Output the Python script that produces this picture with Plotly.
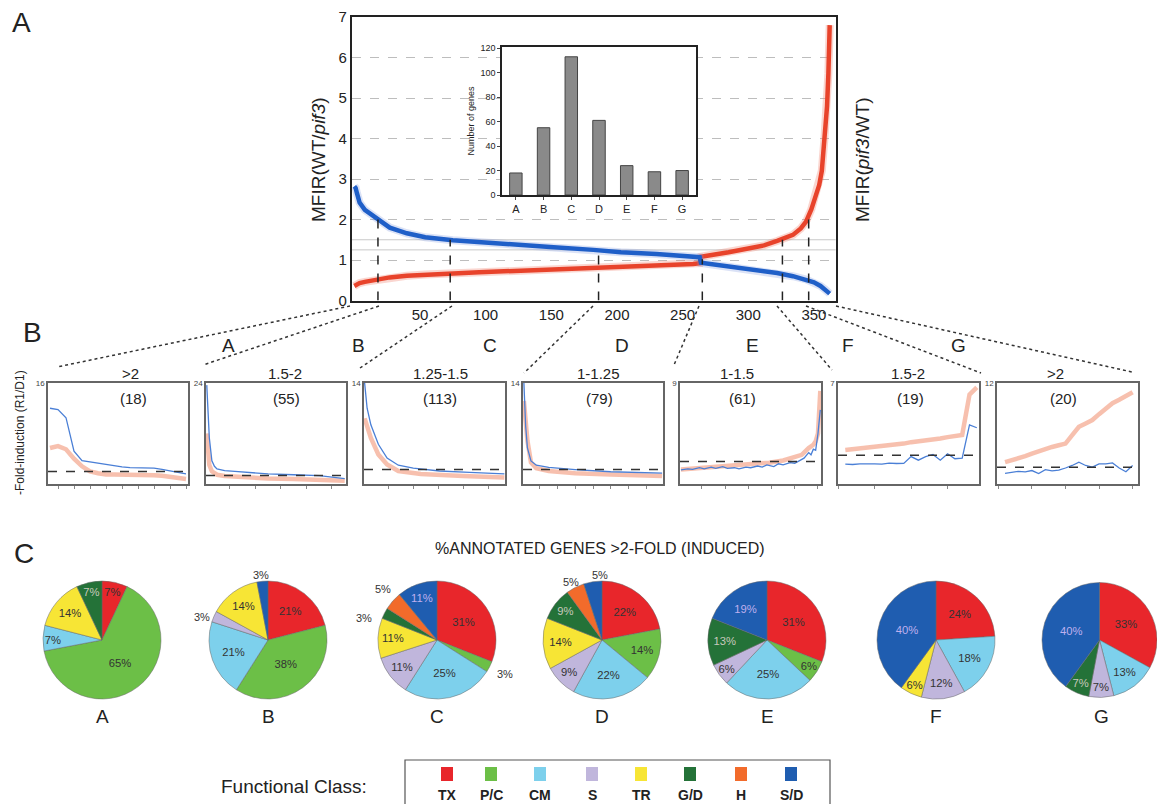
import plotly.graph_objects as go

W, H = 1157, 804
FONT = "Liberation Sans, Arial, Helvetica, sans-serif"

# ---------------- data ----------------
# Panel A: ranked MFIR curves
rank_blue = [0, 1, 2, 4, 8, 13, 19, 27, 40, 54, 75, 95, 122, 149, 182, 203, 230, 258, 263,
             264, 285, 312, 322, 334, 344, 350, 355, 359, 362]
mfir_blue = [2.82, 2.78, 2.65, 2.42, 2.24, 2.12, 2.0, 1.8, 1.66, 1.56, 1.49, 1.44, 1.37, 1.32, 1.25, 1.19, 1.15, 1.09, 1.07,
             0.93, 0.84, 0.72, 0.68, 0.6, 0.52, 0.45, 0.36, 0.26, 0.17]
rank_red = [0, 2, 4, 8, 13, 19, 27, 40, 54, 75, 95, 122, 149, 182, 203, 230, 258, 263,
            264, 285, 312, 322, 334, 340, 344, 348, 351, 354, 356, 358, 360, 361, 362]
mfir_red = [0.36, 0.4, 0.43, 0.46, 0.49, 0.53, 0.57, 0.61, 0.64, 0.67, 0.7, 0.73, 0.76, 0.8, 0.84, 0.87, 0.9, 0.92,
            1.08, 1.19, 1.36, 1.47, 1.62, 1.78, 1.95, 2.25, 2.55, 2.85, 3.2, 4.0, 4.8, 5.6, 6.8]
boundary_rank = [18, 73, 186, 265, 326, 346]
boundary_mfir = [2.0, 1.5, 1.25, 1.02, 1.5, 2.0]
x_ticks_main = [50, 100, 150, 200, 250, 300, 350]

# inset bar chart
inset_groups = ["A", "B", "C", "D", "E", "F", "G"]
inset_counts = [18, 55, 113, 61, 24, 19, 20]

# Panel B: fold-induction mini plots
panel_titles = [">2", "1.5-2", "1.25-1.5", "1-1.25", "1-1.5", "1.5-2", ">2"]
panel_counts = [18, 55, 113, 79, 61, 19, 20]
panel_ymax = [16, 24, 14, 14, 9, 7, 12]

fold_blue_x = [
    list(range(1, 19)),
    [1, 2, 3, 4, 5, 8, 12, 18, 25, 35, 45, 55],
    [1, 3, 6, 12, 19, 28, 40, 61, 85, 113],
    [1, 2, 3, 5, 8, 15, 30, 50, 79],
    [1, 4, 6, 9, 11, 14, 16, 19, 21, 24, 26, 29, 31, 34, 36, 38, 41, 43, 45, 48, 50, 52, 54, 56, 57, 58, 59, 60, 61],
    list(range(1, 20)),
    list(range(1, 21)),
]
fold_blue_y = [
    [12.0, 11.8, 10.5, 5.2, 3.7, 3.5, 3.2, 3.0, 2.8, 2.7, 2.6, 2.6, 2.6, 2.5, 2.3, 2.1, 1.8, 1.6],
    [23.5, 11, 5.5, 4.2, 3.6, 3.2, 3.0, 2.7, 2.4, 2.2, 2.0, 1.3],
    [14, 10.5, 8.2, 5.5, 3.6, 2.6, 2.2, 1.8, 1.6, 1.4],
    [14, 8, 5, 3.2, 2.6, 2.3, 2.0, 1.7, 1.5],
    [1.25, 1.35, 1.3, 1.45, 1.35, 1.5, 1.4, 1.55, 1.4, 1.45, 1.35, 1.5, 1.45, 1.6, 1.5, 1.7, 1.55, 1.8, 1.7, 1.9,
     1.85, 2.1, 2.3, 2.8, 2.6, 3.1, 3.0, 4.5, 6.6],
    [1.38, 1.35, 1.4, 1.42, 1.4, 1.38, 1.45, 1.42, 1.43, 1.9, 1.65, 1.9, 2.05, 1.65, 2.1, 1.75, 1.8, 4.1, 3.9],
    [1.26, 1.4, 1.5, 1.45, 1.6, 1.25, 1.7, 1.55, 1.65, 1.9, 2.2, 2.6, 2.2, 2.0, 2.4, 2.4, 2.5, 1.9, 1.45, 2.2],
]
fold_red_x = [
    list(range(1, 19)),
    [1, 2, 3, 4, 5, 8, 12, 18, 25, 35, 45, 55],
    [1, 6, 12, 19, 28, 46, 80, 113],
    [1, 3, 5, 8, 15, 30, 50, 79],
    [1, 11, 21, 31, 39, 45, 49, 53, 56, 58, 59, 60, 61],
    list(range(1, 20)),
    list(range(1, 21)),
]
fold_red_y = [
    [5.7, 6.0, 5.5, 4.0, 2.8, 2.0, 1.7, 1.5, 1.5, 1.5, 1.5, 1.5, 1.4, 1.4, 1.3, 1.1, 0.9, 0.8],
    [12, 4.5, 3.0, 2.5, 2.2, 1.9, 1.7, 1.5, 1.3, 1.2, 1.0, 0.8],
    [9.1, 6.4, 4.1, 2.7, 1.8, 1.4, 1.1, 0.9],
    [11.5, 6, 3, 2.2, 1.8, 1.5, 1.3, 1.1],
    [1.3, 1.45, 1.6, 1.75, 1.9, 2.1, 2.3, 2.6, 3.2, 3.5, 3.8, 4.5, 8.3],
    [2.35, 2.4, 2.45, 2.5, 2.55, 2.6, 2.65, 2.75, 2.8, 2.9, 2.95, 3.0, 3.1, 3.15, 3.25, 3.3, 3.4, 6.2, 6.7],
    [2.6, 2.8, 3.0, 3.3, 3.6, 3.9, 4.2, 4.4, 4.6, 4.8, 5.8, 6.8, 7.2, 7.6, 8.3, 9.0, 9.6, 10.0, 10.5, 10.9],
]
fold_threshold = 2

# Panel C: functional classes (%)
class_names = ["TX", "P/C", "CM", "S", "TR", "G/D", "H", "S/D"]
class_colors = ["#e8262b", "#6cbf47", "#7dd0ec", "#c0b6dc", "#f7e535", "#247238", "#f26b2b", "#1f5db0"]
class_text_colors = ["#333", "#333", "#333", "#333", "#333", "#c9c9bd", "#333", "#bfb0ee"]
pie_groups = ["A", "B", "C", "D", "E", "F", "G"]
pie_A = [7, 65, 7, 0, 14, 7, 0, 0]
pie_B = [21, 38, 21, 3, 14, 0, 0, 3]
pie_C = [31, 3, 25, 11, 11, 3, 5, 11]
pie_D = [22, 14, 22, 9, 14, 9, 5, 5]
pie_E = [31, 6, 25, 6, 0, 13, 0, 19]
pie_F = [24, 0, 18, 12, 6, 0, 0, 40]
pie_G = [33, 0, 13, 7, 0, 7, 0, 40]
# small slices whose labels sit outside the pie: (pie, class) -> label position in pixels
pie_outside_pos = {("B", "S"): (202, 617), ("B", "S/D"): (261, 575),
                   ("C", "P/C"): (505, 674), ("C", "G/D"): (364, 618), ("C", "H"): (383, 589),
                   ("D", "H"): (571, 582), ("D", "S/D"): (600, 575)}

# ---------------- helpers ----------------
def px(x):
    return x / W


def py(y):
    return 1 - y / H


fig = go.Figure()
annotations = []
shapes = []


def ann(x, y, text, size, **kw):
    d = dict(x=px(x), y=py(y), xref="paper", yref="paper", text=text, showarrow=False,
             xanchor="center", yanchor="middle",
             font=dict(family=FONT, size=size, color=kw.pop("color", "#222")))
    d.update(kw)
    annotations.append(d)


# ---------------- Panel A ----------------
for xs, ys, core, halo in [(rank_red, mfir_red, "#e8432b", "rgba(240,120,100,0.3)"),
                           (rank_blue, mfir_blue, "#1f5fc8", "rgba(110,140,220,0.25)")]:
    fig.add_trace(go.Scatter(x=xs, y=ys, mode="lines", line=dict(color=halo, width=8),
                             hoverinfo="skip", showlegend=False, xaxis="x", yaxis="y"))
    fig.add_trace(go.Scatter(x=xs, y=ys, mode="lines", line=dict(color=core, width=4.5),
                             hoverinfo="skip", showlegend=False, xaxis="x", yaxis="y"))

for lvl in [1.25, 1.5]:
    shapes.append(dict(type="line", xref="x domain", yref="y", x0=0, x1=1, y0=lvl, y1=lvl,
                       line=dict(color="#c8c8c8", width=1), layer="below"))
for bx, by in zip(boundary_rank, boundary_mfir):
    shapes.append(dict(type="line", xref="x", yref="y", x0=bx, x1=bx, y0=0, y1=by,
                       line=dict(color="#222", width=1.5, dash="dash")))

# inset bars
fig.add_trace(go.Bar(x=inset_groups, y=inset_counts, width=0.45,
                     marker=dict(color="#8a8a8a", line=dict(color="#444", width=1)),
                     hoverinfo="skip", showlegend=False, xaxis="x2", yaxis="y2"))

# ---------------- Panel B ----------------
panel_lr = [(48, 188), (206, 346), (364, 505), (523, 663), (680, 821), (838, 979), (997, 1138)]
panel_title_x = [130, 285, 440, 598, 737, 908, 1055]
panel_count_x = [133, 286, 440, 599, 742, 910, 1063]
panel_xrange = [[0.75, 18.25], [0.7, 55.5], [0.5, 113.5], [0.5, 79.5], [0.6, 61.3], [0.0, 19.3], [-0.2, 20.8]]
PT, PB = 383, 484
for k in range(7):
    xa = f"x{k + 3}"
    ya = f"y{k + 3}"
    fig.add_trace(go.Scatter(x=fold_red_x[k], y=fold_red_y[k], mode="lines",
                             line=dict(color="rgba(242,150,120,0.6)", width=4.5),
                             hoverinfo="skip", showlegend=False, xaxis=xa, yaxis=ya))
    fig.add_trace(go.Scatter(x=fold_blue_x[k], y=fold_blue_y[k], mode="lines",
                             line=dict(color="#4a7fd6", width=1.3),
                             hoverinfo="skip", showlegend=False, xaxis=xa, yaxis=ya))
    shapes.append(dict(type="line", xref=f"{xa} domain", yref=ya, x0=0, x1=1, y0=fold_threshold, y1=fold_threshold,
                       line=dict(color="#333", width=1.5, dash="dash")))
    ann(panel_title_x[k], 373, panel_titles[k], 15)
    ann(panel_count_x[k], 398, f"({panel_counts[k]})", 15)

# ---------------- Pies ----------------
pie_cx = [102, 268, 437, 602, 767, 936, 1101]
pie_data = [pie_A, pie_B, pie_C, pie_D, pie_E, pie_F, pie_G]
PCY, PR = 640, 59
for g, cx, vals in zip(pie_groups, pie_cx, pie_data):
    idx = [i for i, v in enumerate(vals) if v > 0]
    x0 = max(cx - PR, 0)
    x1 = min(cx + PR, W)
    fig.add_trace(go.Pie(
        labels=[class_names[i] for i in idx],
        values=[vals[i] for i in idx],
        text=[f"{vals[i]}%" for i in idx],
        textinfo="text",
        textposition=["none" if (g, class_names[i]) in pie_outside_pos else "inside" for i in idx],
        insidetextorientation="horizontal",
        insidetextfont=dict(family=FONT, size=12, color=[class_text_colors[i] for i in idx]),
        marker=dict(colors=[class_colors[i] for i in idx], line=dict(color="#666", width=0.5)),
        sort=False, direction="clockwise", rotation=0,
        domain=dict(x=[px(x0), px(x1)], y=[py(PCY + PR), py(PCY - PR)]),
        hoverinfo="skip", showlegend=False,
    ))
    for i in idx:
        if (g, class_names[i]) in pie_outside_pos:
            lx, ly = pie_outside_pos[(g, class_names[i])]
            ann(lx, ly, f"{vals[i]}%", 11, color="#333")
    ann(cx, 716, g, 19)

# ---------------- connectors (dotted) ----------------
connectors = [((350, 306), (57, 367)), ((379, 306), (203, 365)), ((452, 306), (360, 368)),
              ((593, 306), (524, 373)), ((699, 306), (674, 365)), ((777, 306), (832, 370)),
              ((806, 306), (981, 373)), ((836, 306), (1132, 372))]
for (ax, ay), (bx, by) in connectors:
    shapes.append(dict(type="line", xref="paper", yref="paper", x0=px(ax), y0=py(ay), x1=px(bx), y1=py(by),
                       line=dict(color="#333", width=1.5, dash="dot")))

# ---------------- text ----------------
ann(22, 22, "A", 28)
ann(32, 332, "B", 28)
ann(24, 553, "C", 28)
ann(318, 160, "MFIR(WT/<i>pif3</i>)", 19, textangle=-90)
ann(862, 160, "MFIR(<i>pif3</i>/WT)", 19, textangle=-90)
for lab, x in zip(inset_groups, [228, 358, 490, 622, 752, 848, 958]):
    ann(x, 345, lab, 19)
ann(20, 433, "-Fold-induction (R1/D1)", 12, textangle=-90)
ann(600, 548, "%ANNOTATED GENES >2-FOLD (INDUCED)", 16)

# legend
ann(294, 786, "Functional Class:", 19)
shapes.append(dict(type="path", xref="paper", yref="paper",
                   path=f"M {px(405)},{py(806)} L {px(405)},{py(760)} L {px(830)},{py(760)} L {px(830)},{py(806)}",
                   line=dict(color="#555", width=1.2)))
leg_x = [447, 491, 540, 592, 641, 690, 741, 791]
for name, col, lx in zip(class_names, class_colors, leg_x):
    shapes.append(dict(type="rect", xref="paper", yref="paper", x0=px(lx - 6), x1=px(lx + 6),
                       y0=py(781), y1=py(767), fillcolor=col, line=dict(width=0)))
    ann(lx, 795, f"<b>{name}</b>", 14)

# ---------------- layout ----------------
layout = dict(
    template="none",
    width=W, height=H, margin=dict(l=0, r=0, t=0, b=0, autoexpand=False),
    paper_bgcolor="white", plot_bgcolor="white",
    font=dict(family=FONT, color="#222"),
    uniformtext=dict(minsize=11, mode="show"),
    xaxis=dict(domain=[px(351.7), px(835.6)], range=[-2, 366.5], tickvals=x_ticks_main,
               showline=True, mirror=True, linecolor="#222", linewidth=1.5, showgrid=False, zeroline=False,
               ticks="", tickfont=dict(size=15), anchor="y", automargin=False),
    yaxis=dict(domain=[py(300.5), py(17)], range=[0, 7], dtick=1, showgrid=True, griddash="dash",
               gridcolor="#bdbdbd", gridwidth=1, showline=True, mirror=True, linecolor="#222", linewidth=1.5,
               zeroline=False, ticks="", tickfont=dict(size=15), anchor="x", automargin=False),
    xaxis2=dict(domain=[px(502), px(696)], anchor="y2", showline=True, mirror=True, linecolor="#222",
                linewidth=1.5, ticks="outside", ticklen=3, tickfont=dict(size=11), showgrid=False,
                automargin=False),
    yaxis2=dict(domain=[py(195), py(47)], anchor="x2", range=[0, 121], dtick=20, showline=True, mirror=True,
                linecolor="#222", linewidth=1.5, ticks="outside", ticklen=3, tickfont=dict(size=9),
                showgrid=False, zeroline=False, automargin=False,
                title=dict(text="Number of genes", font=dict(size=9), standoff=4)),
    annotations=annotations,
    shapes=shapes,
)
for k in range(7):
    L, R = panel_lr[k]
    layout[f"xaxis{k + 3}"] = dict(domain=[px(L), px(R)], range=panel_xrange[k], anchor=f"y{k + 3}",
                                   showline=True, mirror=True, linecolor="#666", linewidth=1.5,
                                   ticks="outside", ticklen=3, tickcolor="#888", nticks=9,
                                   showticklabels=False, showgrid=False, zeroline=False, automargin=False)
    layout[f"yaxis{k + 3}"] = dict(domain=[py(PB), py(PT)], range=[0, panel_ymax[k]], anchor=f"x{k + 3}",
                                   tickvals=[panel_ymax[k]], ticktext=[str(panel_ymax[k])], ticks="",
                                   tickfont=dict(size=8, color="#444"), showline=True, mirror=True,
                                   linecolor="#666", linewidth=1.5, showgrid=False, zeroline=False,
                                   automargin=False)
fig.update_layout(**layout)
fig.write_html("out.html", config={"displayModeBar": False},
               post_script="document.body.style.margin='0';document.body.style.overflow='hidden';")
